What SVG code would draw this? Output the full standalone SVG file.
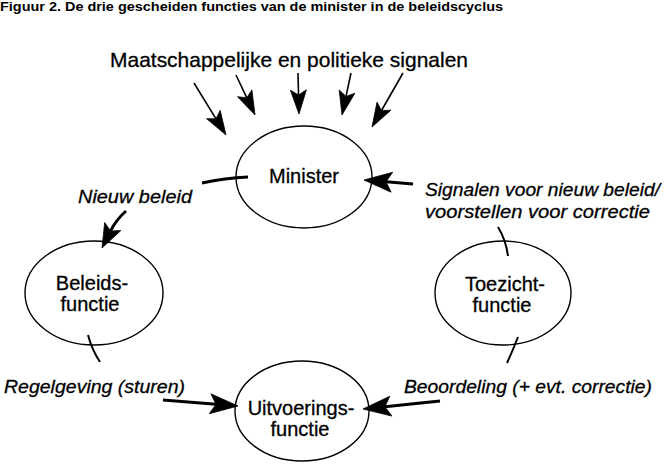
<svg xmlns="http://www.w3.org/2000/svg" width="665" height="464" viewBox="0 0 665 464">
<defs>
<style>
.title{font-family:"Liberation Sans",Arial,sans-serif;font-weight:bold;font-size:12px;fill:#000}
.big{font-family:"Liberation Sans",Arial,sans-serif;font-size:21px;fill:#000;stroke:#000;stroke-width:0.3}
.node{font-family:"Liberation Sans",Arial,sans-serif;font-size:20px;fill:#000;text-anchor:middle;stroke:#000;stroke-width:0.3}
.lbl{font-family:"Liberation Sans",Arial,sans-serif;font-style:italic;font-size:19px;fill:#000;stroke:#000;stroke-width:0.3}
.ell{fill:#fff;stroke:#000;stroke-width:1.4}
.thin{fill:none;stroke:#000;stroke-width:1.6}
.thick{fill:none;stroke:#000;stroke-width:3}
.tick{fill:none;stroke:#000;stroke-width:2}
.head{fill:#000;stroke:#000;stroke-width:0.8;stroke-linejoin:round}
</style>
</defs>
<text class="title" x="0" y="11" textLength="503" lengthAdjust="spacingAndGlyphs">Figuur 2.  De drie gescheiden functies van de minister in de beleidscyclus</text>
<text class="big" x="110" y="67" textLength="358" lengthAdjust="spacingAndGlyphs">Maatschappelijke en politieke signalen</text>
<g id="minister">
<ellipse class="ell" cx="304" cy="177" rx="68" ry="51"/>
<text class="node" x="304" y="183">Minister</text>
</g>
<g id="beleidsfunctie">
<ellipse class="ell" cx="94" cy="293" rx="69" ry="52"/>
<text class="node" x="92" y="290">Beleids-</text>
<text class="node" x="90" y="311">functie</text>
</g>
<g id="toezichtfunctie">
<ellipse class="ell" cx="503" cy="293" rx="68" ry="52"/>
<text class="node" x="505" y="291">Toezicht-</text>
<text class="node" x="502" y="312">functie</text>
</g>
<g id="uitvoeringsfunctie">
<ellipse class="ell" cx="302" cy="411" rx="67" ry="50"/>
<text class="node" x="301" y="415">Uitvoerings-</text>
<text class="node" x="300" y="436">functie</text>
</g>
<g id="connectors">
<line class="thin" x1="194" y1="83" x2="216" y2="118.8"/>
<polygon class="head" points="226,135 206.6,118.7 216,118.8 220.2,110.4"/>
<line class="thin" x1="236" y1="75" x2="246.8" y2="97.8"/>
<polygon class="head" points="255,115 237.5,96.7 246.8,97.8 251.9,89.9"/>
<line class="thin" x1="298" y1="73" x2="298.5" y2="95"/>
<polygon class="head" points="299,114 290.4,90.2 298.5,95 306.4,89.8"/>
<line class="thin" x1="351" y1="73" x2="346" y2="96.4"/>
<polygon class="head" points="342,115 339.2,89.9 346,96.4 354.9,93.2"/>
<line class="thin" x1="403" y1="73" x2="381.5" y2="110.5"/>
<polygon class="head" points="372,127 377,102.2 381.5,110.5 390.9,110.2"/>
<path class="thick" d="M248,177 Q225,178 202,183"/>
<path class="thick" d="M126,211 Q116,220 110.5,231"/>
<polygon class="head" points="102,248 104.7,222.5 110.5,231 120.8,230.6"/>
<path class="tick" d="M88,335 Q92,350 100,362"/>
<line class="thick" x1="163" y1="400" x2="216" y2="404.2"/>
<polygon class="head" points="238,406 209.3,413.7 216,404.2 210.9,393.8"/>
<line class="thick" x1="440" y1="401" x2="384.9" y2="406.7"/>
<polygon class="head" points="363,409 389.8,396.2 384.9,406.7 391.9,416.1"/>
<path class="tick" d="M498,227 Q506,240 508,256"/>
<path class="tick" d="M518,337 Q513,350 507,363"/>
<line class="thick" x1="413" y1="184" x2="386" y2="181.8"/>
<polygon class="head" points="364,180 392.7,172.3 386,181.8 391.1,192.2"/>
</g>
<text class="lbl" x="78" y="203" textLength="114" lengthAdjust="spacingAndGlyphs">Nieuw beleid</text>
<text class="lbl" x="425" y="196" textLength="235" lengthAdjust="spacingAndGlyphs">Signalen voor nieuw beleid/</text>
<text class="lbl" x="425" y="218" textLength="225" lengthAdjust="spacingAndGlyphs">voorstellen voor correctie</text>
<text class="lbl" x="4" y="393" textLength="181" lengthAdjust="spacingAndGlyphs">Regelgeving (sturen)</text>
<text class="lbl" x="404" y="393" textLength="248" lengthAdjust="spacingAndGlyphs">Beoordeling (+ evt. correctie)</text>
</svg>
